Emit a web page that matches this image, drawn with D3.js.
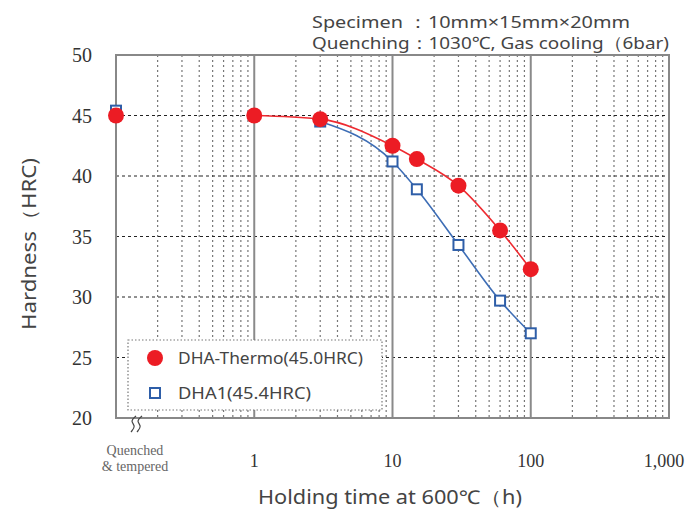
<!DOCTYPE html>
<html><head><meta charset="utf-8">
<script src="https://cdn.jsdelivr.net/npm/d3@7"></script>
<style>body{margin:0;background:#fff}</style>
</head><body>
<svg id="c" width="687" height="509"></svg>
<script>
const thermoTime = [0.1, 1, 3, 10, 15, 30, 60, 100];
const thermoHRC  = [45.0, 45.0, 44.7, 42.5, 41.4, 39.2, 35.5, 32.3];
const dha1Time = [0.1, 3, 10, 15, 30, 60, 100];
const dha1HRC  = [45.4, 44.5, 41.2, 38.9, 34.3, 29.7, 27.0];
const yTicks = [20, 25, 30, 35, 40, 45, 50];
const xTicks = [1, 10, 100, 1000];
const xTickLabels = ["1", "10", "100", "1,000"];
const legendLabels = ["DHA-Thermo(45.0HRC)", "DHA1(45.4HRC)"];

const svg = d3.select("#c");
const L = 116, R = 669, T = 55, B = 418;
const x = d3.scaleLog().domain([0.1, 1000]).range([L, R]);
const y = d3.scaleLinear().domain([20, 50]).range([B, T]);
const SANS = "Noto Sans, sans-serif";

// minor gridlines
const minors = [];
for (let d = 0.1; d < 1000; d *= 10) for (let k = 2; k <= 9; k++) minors.push(d * k);
svg.append("g").selectAll("line").data(minors).join("line")
  .attr("x1", d => x(d)).attr("x2", d => x(d)).attr("y1", T).attr("y2", B)
  .attr("stroke", "#777").attr("stroke-width", 1.2).attr("stroke-dasharray", "2,3");
// horizontal grid
svg.append("g").selectAll("line").data(yTicks.filter(v => v > 20 && v < 50)).join("line")
  .attr("x1", L).attr("x2", R).attr("y1", d => y(d)).attr("y2", d => y(d))
  .attr("stroke", "#222").attr("stroke-width", 1).attr("stroke-dasharray", "3,3");
// major verticals
svg.append("g").selectAll("line").data([1, 10, 100]).join("line")
  .attr("x1", d => x(d)).attr("x2", d => x(d)).attr("y1", T).attr("y2", B)
  .attr("stroke", "#8a8a8a").attr("stroke-width", 2);
// border
svg.append("rect").attr("x", L).attr("y", T).attr("width", R - L).attr("height", B - T)
  .attr("fill", "none").attr("stroke", "#888").attr("stroke-width", 2);

// y tick labels
svg.append("g").selectAll("text").data(yTicks).join("text")
  .attr("x", 92).attr("y", d => y(d) + 7).attr("text-anchor", "end")
  .attr("font-family", "Liberation Serif, serif").attr("font-size", 20).attr("fill", "#333")
  .text(d => d);
// x tick labels
svg.append("g").selectAll("text").data(xTicks).join("text")
  .attr("x", (d, i) => x(d) - (i === 3 ? 5 : 0)).attr("y", 467).attr("text-anchor", "middle")
  .attr("font-family", "Liberation Serif, serif").attr("font-size", 18).attr("fill", "#333")
  .text((d, i) => xTickLabels[i]);
svg.append("text").attr("x", 135).attr("y", 455).attr("text-anchor", "middle")
  .attr("font-family", "Liberation Serif, serif").attr("font-size", 14).attr("fill", "#666").text("Quenched");
svg.append("text").attr("x", 135).attr("y", 471).attr("text-anchor", "middle")
  .attr("font-family", "Liberation Serif, serif").attr("font-size", 14).attr("fill", "#666").text("& tempered");

// break marks
const brk = d3.line().curve(d3.curveBasis);
[0, 6].forEach(dx => {
  const x0 = 133 + dx;
  svg.append("path").attr("d", brk([[x0 + 3, 416], [x0 - 3, 421], [x0 + 3, 426], [x0 - 2, 432]]))
    .attr("fill", "none").attr("stroke", "#444").attr("stroke-width", 1.2);
});

// axis titles
svg.append("text").attr("transform", "translate(36," + 244 + ") rotate(-90)")
  .attr("text-anchor", "middle").attr("font-family", SANS).attr("font-size", 19)
  .attr("fill", "#444").attr("textLength", 172).attr("lengthAdjust", "spacingAndGlyphs")
  .text("Hardness（HRC)");
svg.append("text").attr("x", 390).attr("y", 504).attr("text-anchor", "middle")
  .attr("font-family", SANS).attr("font-size", 19).attr("fill", "#444")
  .attr("textLength", 264).attr("lengthAdjust", "spacingAndGlyphs")
  .text("Holding time at 600℃（h)");

// annotation
svg.append("text").attr("x", 312).attr("y", 28).attr("font-family", SANS)
  .attr("font-size", 17).attr("fill", "#444").attr("textLength", 318).attr("lengthAdjust", "spacingAndGlyphs")
  .text("Specimen ：10mm×15mm×20mm");
svg.append("text").attr("x", 312).attr("y", 49).attr("font-family", SANS)
  .attr("font-size", 17).attr("fill", "#444").attr("textLength", 357).attr("lengthAdjust", "spacingAndGlyphs")
  .text("Quenching：1030℃, Gas cooling（6bar)");

// legend
svg.append("rect").attr("x", 128).attr("y", 340).attr("width", 254).attr("height", 70)
  .attr("fill", "#fff").attr("stroke", "#777").attr("stroke-dasharray", "1.5,2").attr("stroke-width", 1.2);

// lines
const line = d3.line().x(d => x(d[0])).y(d => y(d[1])).curve(d3.curveMonotoneX);
const thermo = thermoTime.map((t, i) => [t, thermoHRC[i]]);
const dha1 = dha1Time.map((t, i) => [t, dha1HRC[i]]);
svg.append("path").attr("d", line(dha1.slice(1))).attr("fill", "none")
  .attr("stroke", "#3d6db5").attr("stroke-width", 1.6);
svg.append("path").attr("d", line(thermo.slice(1))).attr("fill", "none")
  .attr("stroke", "#ee2a30").attr("stroke-width", 1.6);

// markers
const sq = 10;
svg.append("g").selectAll("rect").data(dha1).join("rect")
  .attr("x", d => x(d[0]) - sq / 2).attr("y", d => y(d[1]) - sq / 2)
  .attr("width", sq).attr("height", sq).attr("fill", "#fff")
  .attr("stroke", "#2e5ea8").attr("stroke-width", 2);
svg.append("g").selectAll("circle").data(thermo).join("circle")
  .attr("cx", d => x(d[0])).attr("cy", d => y(d[1])).attr("r", 8).attr("fill", "#ec1c24");

// legend entries
svg.append("circle").attr("cx", 155).attr("cy", 358).attr("r", 8).attr("fill", "#ec1c24");
svg.append("rect").attr("x", 150).attr("y", 388).attr("width", 10).attr("height", 10)
  .attr("fill", "#fff").attr("stroke", "#2e5ea8").attr("stroke-width", 2);
svg.append("text").attr("x", 178).attr("y", 364).attr("font-family", SANS)
  .attr("font-size", 16).attr("fill", "#444").attr("textLength", 185).attr("lengthAdjust", "spacingAndGlyphs")
  .text(legendLabels[0]);
svg.append("text").attr("x", 178).attr("y", 399).attr("font-family", SANS)
  .attr("font-size", 16).attr("fill", "#444").attr("textLength", 133).attr("lengthAdjust", "spacingAndGlyphs")
  .text(legendLabels[1]);
</script>
</body></html>
